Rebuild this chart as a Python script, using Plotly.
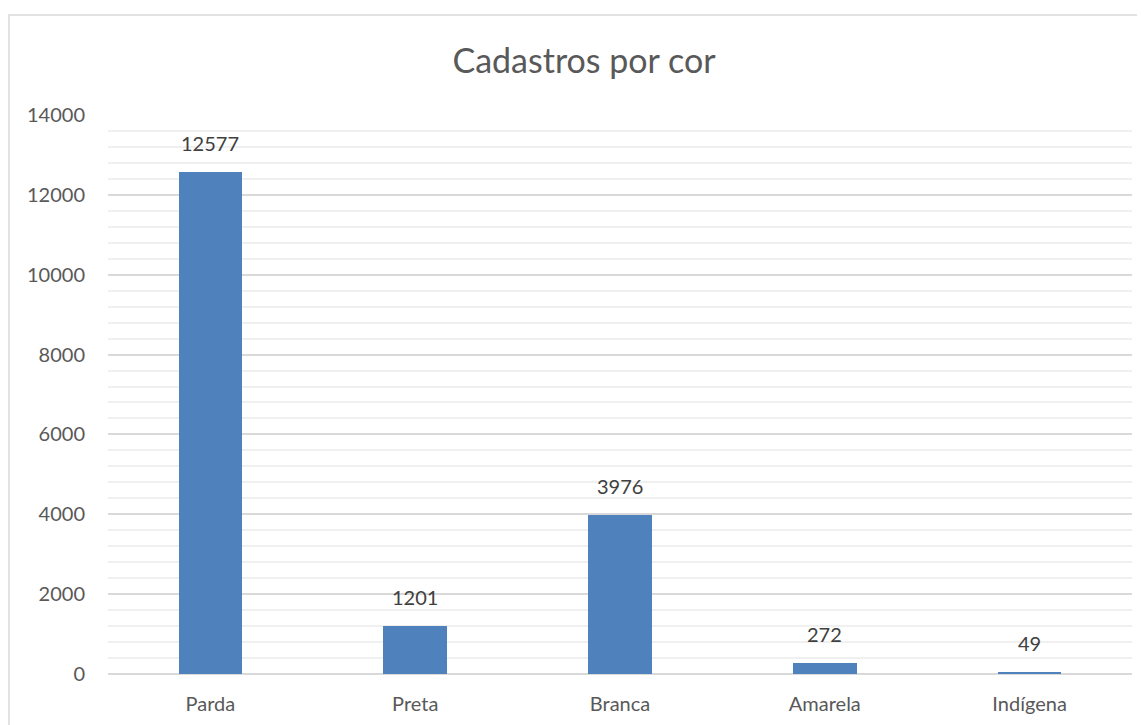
import plotly.graph_objects as go

categorias = ["Parda", "Preta", "Branca", "Amarela", "Indígena"]
cadastros = [12577, 1201, 3976, 272, 49]
titulo = "Cadastros por cor"

# a página tem 8px de margem no body, então a figura é um pouco menor
W, H = 1137, 717
ml, mr, mt, mb = 100, 13, 107, 51
pw, ph = W - ml - mr, H - mt - mb

fig = go.Figure()
fig.add_trace(go.Bar(
    x=categorias, y=cadastros,
    marker=dict(color="#4f81bd", line=dict(width=0)),
    width=0.31,
))

for cat, val in zip(categorias, cadastros):
    fig.add_annotation(x=cat, y=val, text=str(val), showarrow=False,
                       yanchor="bottom", yshift=15,
                       font=dict(size=20, color="#404040"))

# moldura do gráfico (estilo Excel, cortada à direita/baixo)
fig.add_shape(type="rect", xref="paper", yref="paper",
              x0=(1 - ml) / pw, x1=(W + 20 - ml) / pw,
              y0=-(mb + 20) / ph, y1=1 + (mt - 7) / ph,
              line=dict(color="#d9d9d9", width=1.5), layer="below")

fig.update_layout(
    width=W, height=H,
    margin=dict(l=ml, r=mr, t=mt, b=mb, autoexpand=False),
    paper_bgcolor="white", plot_bgcolor="white",
    font=dict(family="Lato, Open Sans, sans-serif", color="#595959", size=20),
    title=dict(text=titulo, x=576 / W, xanchor="center", xref="container",
               y=1 - 53 / H, yanchor="middle",
               font=dict(size=34, color="#595959")),
    showlegend=False,
    bargap=0,
)
fig.update_xaxes(showline=False, ticks="", ticklabelstandoff=16, automargin=False,
                 tickfont=dict(size=20, color="#595959"))
fig.update_yaxes(range=[0, 14000], dtick=2000, tickformat="d", showline=False,
                 automargin=False,
                 gridcolor="#d9d9d9", gridwidth=1.5,
                 zeroline=True, zerolinecolor="#d9d9d9", zerolinewidth=1.5,
                 minor=dict(dtick=400, showgrid=True, gridcolor="#f0f0f0", gridwidth=1.5),
                 ticklabelstandoff=22, tickfont=dict(size=20, color="#595959"))

fig.write_html("out.html")
